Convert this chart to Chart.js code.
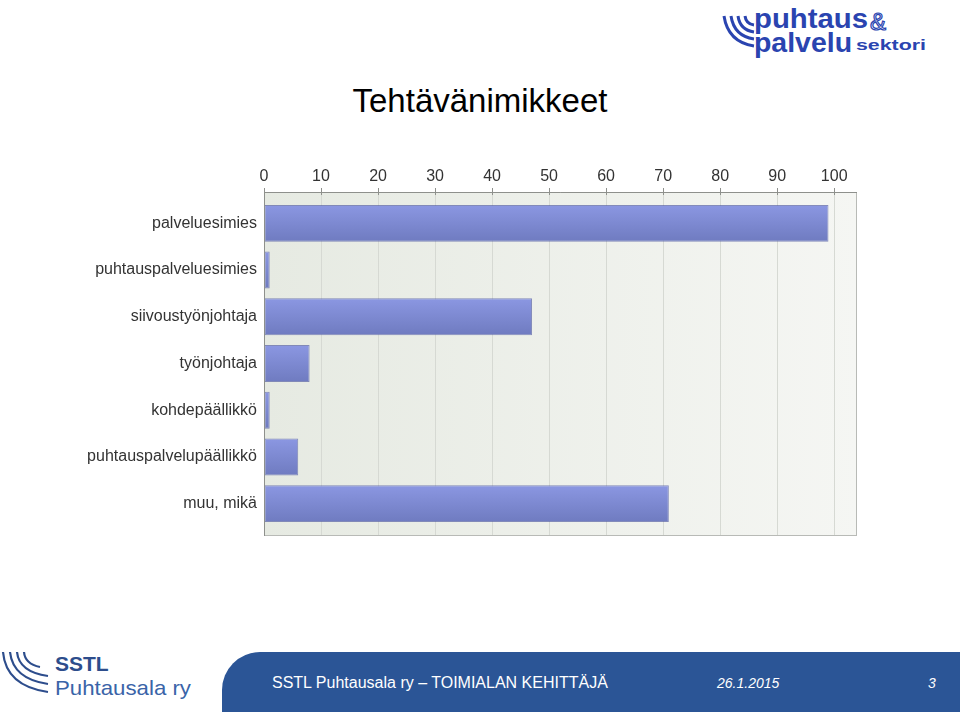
<!DOCTYPE html>
<html>
<head>
<meta charset="utf-8">
<script src="https://cdn.jsdelivr.net/npm/chart.js@4.4.1/dist/chart.umd.min.js"></script>
<style>
  body { margin: 0; background: #fff; font-family: "Liberation Sans", Arial, sans-serif; }
  #page { position: relative; width: 960px; height: 712px; overflow: hidden; background: #fff; }
  #title { position: absolute; left: 0; width: 960px; top: 82px; text-align: center; font-size: 33px; color: #000; }
  #chartBox { position: absolute; left: 0; top: 150px; width: 960px; height: 400px; }
  #logoTop { position: absolute; left: 720px; top: 2px; width: 210px; height: 56px; }
  #footer { position: absolute; left: 222px; top: 652px; width: 738px; height: 60px; background: #2b5596; border-top-left-radius: 38px; color: #fff; }
  #footer span { position: absolute; top: 22px; font-size: 16px; }
  #logoBottom { position: absolute; left: 0; top: 648px; width: 200px; height: 60px; }
</style>
</head>
<body>
<div id="page">
  <svg id="logoTop" viewBox="0 0 210 56">
    <g fill="none" stroke="#2a44b0" stroke-width="3">
      <path d="M4 14 Q8 40 34 44"/>
      <path d="M11 14 Q14 34 34 37"/>
      <path d="M18 14 Q20 28 34 30"/>
      <path d="M25 14 Q26 22 34 23"/>
    </g>
    <text x="34" y="26" textLength="114" lengthAdjust="spacingAndGlyphs" font-family="Liberation Sans, Arial" font-weight="bold" font-size="28" fill="#2a44b0">puhtaus</text>
    <text x="150" y="28" font-family="Liberation Sans, Arial" font-size="24" fill="#fff" stroke="#2a44b0" stroke-width="1.2">&amp;</text>
    <text x="34" y="50" textLength="98" lengthAdjust="spacingAndGlyphs" font-family="Liberation Sans, Arial" font-weight="bold" font-size="28" fill="#2a44b0">palvelu</text>
    <text x="136" y="48" textLength="70" lengthAdjust="spacingAndGlyphs" font-family="Liberation Sans, Arial" font-weight="bold" font-size="15" fill="#2a44b0">sektori</text>
  </svg>

  <div id="title">Tehtävänimikkeet</div>

  <div id="chartBox"><canvas id="chart" width="960" height="400"></canvas></div>

  <svg id="logoBottom" viewBox="0 0 200 60">
    <g fill="none" stroke="#2d4d8c" stroke-width="2.2">
      <path d="M3 4 Q6 38 48 44"/>
      <path d="M10 4 Q13 31 48 36"/>
      <path d="M17 4 Q19 24 48 28"/>
      <path d="M24 4 Q25 16 40 19"/>
    </g>
    <text x="55" y="23" font-family="Liberation Sans, Arial" font-weight="bold" font-size="21" fill="#2d4d8c">SSTL</text>
    <text x="55" y="47" textLength="136" lengthAdjust="spacingAndGlyphs" font-family="Liberation Sans, Arial" font-size="21" fill="#3a64a8">Puhtausala ry</text>
  </svg>

  <div id="footer">
    <span style="left:50px;">SSTL Puhtausala ry – TOIMIALAN KEHITTÄJÄ</span>
    <span style="left:495px; top:23px; font-style:italic; font-size:14px;">26.1.2015</span>
    <span style="left:706px; top:23px; font-style:italic; font-size:14px;">3</span>
  </div>
</div>

<script>
// categories and values
const categories = [
  'palveluesimies',
  'puhtauspalveluesimies',
  'siivoustyönjohtaja',
  'työnjohtaja',
  'kohdepäällikkö',
  'puhtauspalvelupäällikkö',
  'muu, mikä'
];
const values = [99, 1, 47, 8, 1, 6, 71];
const xTicks = [0, 10, 20, 30, 40, 50, 60, 70, 80, 90, 100];

const BAR_PCT = 0.79;
const FRAME_TOP = 8;     // frame reaches a bit above / below the category band
const FRAME_BOTTOM = 9;

// plot background, grid, frame
const plotBackground = {
    id: 'plotBackground',
    beforeDatasetsDraw(chart) {
        const { ctx, chartArea: a, scales } = chart;
        const top = a.top - FRAME_TOP;
        const bottom = a.bottom + FRAME_BOTTOM;
        const g = ctx.createLinearGradient(a.left, 0, a.right, 0);
        g.addColorStop(0, '#e6eae2');
        g.addColorStop(1, '#f5f6f3');
        ctx.save();
        ctx.fillStyle = g;
        ctx.fillRect(a.left, top, a.right - a.left, bottom - top);
        ctx.strokeStyle = '#d6d9d3';
        ctx.lineWidth = 1;
        ctx.beginPath();
        xTicks.forEach(v => {
            const x = Math.round(scales.x.getPixelForValue(v)) + 0.5;
            ctx.moveTo(x, top);
            ctx.lineTo(x, bottom);
        });
        ctx.stroke();
        ctx.restore();
    },
    afterDraw(chart) {
        const { ctx, chartArea: a, scales } = chart;
        const top = a.top - FRAME_TOP;
        const bottom = a.bottom + FRAME_BOTTOM;
        ctx.save();
        ctx.lineWidth = 1;
        ctx.strokeStyle = '#b8bab6';
        ctx.strokeRect(a.left + 0.5, top + 0.5, a.right - a.left - 1, bottom - top - 1);
        ctx.strokeStyle = '#8e908c';
        ctx.beginPath();
        ctx.moveTo(a.left + 0.5, top);
        ctx.lineTo(a.left + 0.5, bottom);
        ctx.moveTo(a.left, top + 0.5);
        ctx.lineTo(a.right, top + 0.5);
        xTicks.forEach(v => {
            const x = Math.round(scales.x.getPixelForValue(v)) + 0.5;
            ctx.moveTo(x, top - 4);
            ctx.lineTo(x, top + 3);
        });
        ctx.stroke();
        ctx.restore();
    }
};

function barGradient(context) {
    const chart = context.chart;
    const a = chart.chartArea;
    if (!a || !chart.scales.y) return '#7d88d4';
    const y = chart.scales.y.getPixelForValue(context.dataIndex);
    const h = (a.bottom - a.top) / categories.length * BAR_PCT;
    const g = chart.ctx.createLinearGradient(0, y - h / 2, 0, y + h / 2);
    g.addColorStop(0, '#8b97e2');
    g.addColorStop(1, '#6f7bc0');
    return g;
}

new Chart(document.getElementById('chart'), {
    type: 'bar',
    data: {
        labels: categories,
        datasets: [{
            data: values,
            backgroundColor: barGradient,
            borderColor: 'rgba(85,95,165,0.7)',
            borderWidth: 1,
            borderSkipped: false,
            barPercentage: BAR_PCT,
            categoryPercentage: 1
        }]
    },
    options: {
        indexAxis: 'y',
        responsive: false,
        animation: false,
        maintainAspectRatio: false,
        layout: { padding: { left: 0, right: 103, top: 0, bottom: 23 } },
        plugins: {
            legend: { display: false },
            tooltip: { enabled: false }
        },
        scales: {
            x: {
                position: 'top',
                min: 0,
                max: 104,
                afterBuildTicks(scale) {
                    scale.ticks = xTicks.map(v => ({ value: v }));
                },
                afterFit(scale) { scale.height = 50; },
                ticks: {
                    color: '#333',
                    font: { family: 'Liberation Sans', size: 16 },
                    padding: 14,
                    maxRotation: 0,
                    autoSkip: false
                },
                grid: { drawOnChartArea: false, drawTicks: false },
                border: { display: false }
            },
            y: {
                afterFit(scale) { scale.width = 264; },
                ticks: {
                    color: '#333',
                    font: { family: 'Liberation Sans', size: 16 },
                    padding: 7,
                    autoSkip: false
                },
                grid: { display: false, drawTicks: false, tickLength: 0 },
                border: { display: false }
            }
        }
    },
    plugins: [plotBackground]
});
</script>
</body>
</html>
